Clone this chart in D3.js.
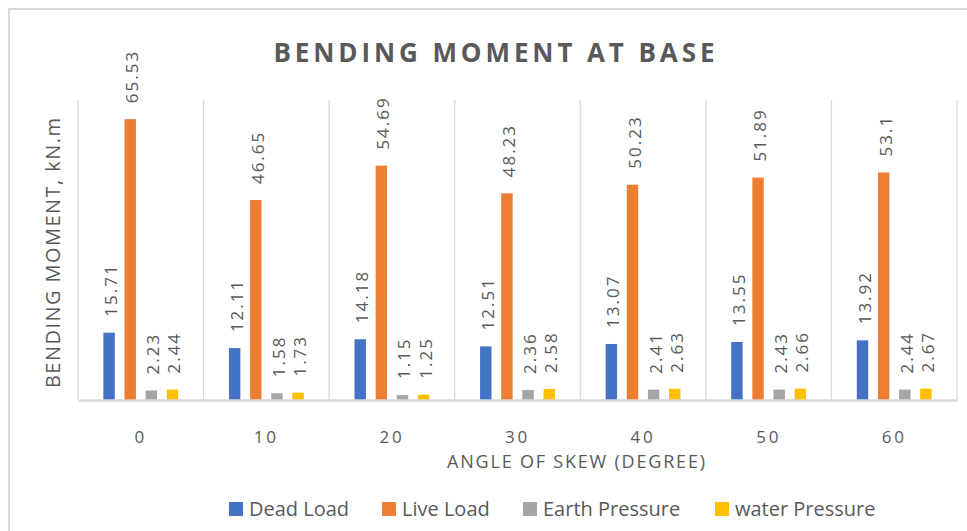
<!DOCTYPE html>
<html>
<head>
<meta charset="utf-8">
<script src="https://cdn.jsdelivr.net/npm/d3@7"></script>
<style>
  html, body { margin: 0; padding: 0; background: #ffffff; }
  svg { display: block; }
  text { font-family: "Open Sans", "Noto Sans", sans-serif; fill: #595959; }
</style>
</head>
<body>
<svg id="chart" width="967" height="531"></svg>
<script>
// Skew angles (degrees)
const categories = ["0", "10", "20", "30", "40", "50", "60"];

// Bending moment at base, kN.m
const deadLoad = [15.71, 12.11, 14.18, 12.51, 13.07, 13.55, 13.92];
const liveLoad = [65.53, 46.65, 54.69, 48.23, 50.23, 51.89, 53.1];
const earthPressure = [2.23, 1.58, 1.15, 2.36, 2.41, 2.43, 2.44];
const waterPressure = [2.44, 1.73, 1.25, 2.58, 2.63, 2.66, 2.67];

const seriesNames = ["Dead Load", "Live Load", "Earth Pressure", "water Pressure"];
const seriesColors = ["#4472C4", "#ED7D31", "#A5A5A5", "#FFC000"];
const seriesValues = [deadLoad, liveLoad, earthPressure, waterPressure];

const yDomain = [0, 70];

const svg = d3.select("#chart");

// chart frame
svg.append("path")
  .attr("d", "M9,531 L9,9 L967,9")
  .attr("fill", "none")
  .attr("stroke", "#d9d9d9")
  .attr("stroke-width", 2);

const plot = { left: 78, right: 957, top: 100, bottom: 400 };

const x0 = d3.scaleBand()
  .domain(categories)
  .range([plot.left, plot.right])
  .paddingInner(0)
  .paddingOuter(0);

const x1 = d3.scaleBand()
  .domain(seriesNames)
  .range([0, x0.bandwidth()])
  .paddingInner(0.46)
  .paddingOuter(1.2);

const y = d3.scaleLinear().domain(yDomain).range([plot.bottom, plot.top]);

// vertical gridlines at category boundaries
const bounds = categories.map(c => x0(c)).concat([plot.right]);
svg.append("g")
  .selectAll("line")
  .data(bounds)
  .join("line")
  .attr("x1", d => d).attr("x2", d => d)
  .attr("y1", plot.top).attr("y2", plot.bottom)
  .attr("stroke", "#d9d9d9")
  .attr("stroke-width", 1.3);

// bars
const groups = svg.append("g")
  .selectAll("g")
  .data(categories)
  .join("g")
  .attr("transform", d => `translate(${x0(d)},0)`);

const barData = (c, i) => seriesNames.map((s, k) => ({ series: s, value: seriesValues[k][i], color: seriesColors[k] }));

groups.selectAll("rect")
  .data((c, i) => barData(c, i))
  .join("rect")
  .attr("x", d => x1(d.series))
  .attr("width", x1.bandwidth())
  .attr("y", d => y(d.value))
  .attr("height", d => y(0) - y(d.value))
  .attr("fill", d => d.color);

// value labels, rotated
groups.selectAll("text.val")
  .data((c, i) => barData(c, i))
  .join("text")
  .attr("class", "val")
  .attr("transform", d => `translate(${x1(d.series) + x1.bandwidth() / 2 + 8},${y(d.value) - 16}) rotate(-90)`)
  .attr("text-anchor", "start")
  .attr("font-size", 17)
  .attr("letter-spacing", 2)
  .text(d => d.value);

// x axis
const xAxis = svg.append("g")
  .attr("transform", `translate(0,${plot.bottom})`)
  .call(d3.axisBottom(x0).tickSize(0).tickPadding(0));
xAxis.select(".domain")
  .attr("stroke", "#d9d9d9")
  .attr("stroke-width", 2.5);
xAxis.selectAll(".tick text")
  .attr("font-family", "\"Open Sans\", sans-serif")
  .attr("fill", "#595959")
  .attr("font-size", 17)
  .attr("letter-spacing", 2.8)
  .attr("dy", null)
  .attr("y", 43);

// axis titles
svg.append("text")
  .attr("x", 576)
  .attr("y", 468)
  .attr("text-anchor", "middle")
  .attr("font-size", 18)
  .attr("textLength", 258)
  .attr("lengthAdjust", "spacing")
  .text("ANGLE OF SKEW (DEGREE)");

svg.append("text")
  .attr("transform", `translate(60,253) rotate(-90)`)
  .attr("text-anchor", "middle")
  .attr("font-size", 20)
  .attr("textLength", 270)
  .attr("lengthAdjust", "spacing")
  .text("BENDING MOMENT, kN.m");

// title
svg.append("text")
  .attr("x", 494)
  .attr("y", 62)
  .attr("text-anchor", "middle")
  .attr("font-size", 26)
  .attr("font-weight", "bold")
  .attr("textLength", 441)
  .attr("lengthAdjust", "spacing")
  .text("BENDING MOMENT AT BASE");

// legend
const legendX = [229, 382, 523, 715];
const legend = svg.append("g")
  .selectAll("g")
  .data(seriesNames)
  .join("g")
  .attr("transform", (d, i) => `translate(${legendX[i]},502)`);
legend.append("rect")
  .attr("width", 14).attr("height", 14)
  .attr("fill", (d, i) => seriesColors[i]);
legend.append("text")
  .attr("x", 20)
  .attr("y", 14)
  .attr("font-size", 20)
  .text(d => d);
</script>
</body>
</html>
